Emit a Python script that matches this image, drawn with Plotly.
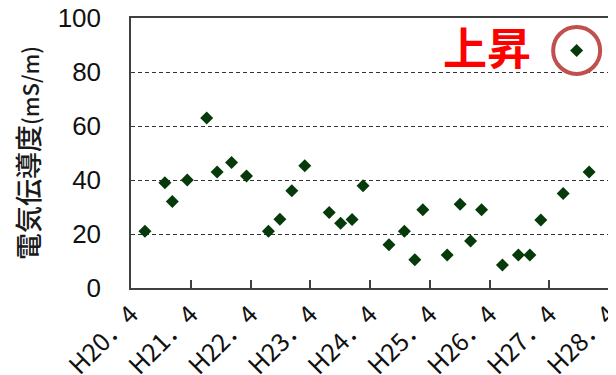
import numpy as np
import plotly.graph_objects as go

# months elapsed since H20.4 (April 2008) for each sample
months = [2.8, 6.8, 8.3, 11.3, 15.2, 17.3, 20.2, 23.2, 27.6, 29.9, 32.3, 34.9,
          39.8, 42.1, 44.4, 46.6, 51.8, 54.9, 57.0, 58.6, 63.5, 66.1, 68.2, 70.4,
          74.6, 77.8, 80.1, 82.3, 86.8, 89.5, 92.0]
# electrical conductivity (mS/m)
conductivity = [21, 39, 32, 40, 63, 43, 46.5, 41.5, 21, 25.5, 36, 45.3,
                28, 24, 25.4, 37.9, 16, 21, 10.5, 29, 12.2, 31, 17.4, 29,
                8.5, 12.2, 12.2, 25.2, 35, 88, 43]
tick_positions = [0, 12, 24, 36, 48, 60, 72, 84, 96]
tick_labels = ["H20．4", "H21．4", "H22．4", "H23．4", "H24．4",
               "H25．4", "H26．4", "H27．4", "H28．4"]
y_ticks = [0, 20, 40, 60, 80, 100]

fig = go.Figure()
fig.add_trace(go.Scatter(
    x=months, y=conductivity, mode="markers",
    marker=dict(symbol="diamond", size=10, color="#063a0a",
                line=dict(width=0)),
    showlegend=False, cliponaxis=False,
))

peak = int(np.argmax(conductivity))
fig.add_shape(type="circle", xref="x", yref="y",
              xsizemode="pixel", ysizemode="pixel",
              xanchor=months[peak], yanchor=conductivity[peak],
              x0=-23.5, x1=23.5, y0=-23.5, y1=23.5,
              line=dict(color="#c0504d", width=4))

fig.add_annotation(x=71.4, y=89.6, xref="x", yref="y", text="<b>上昇</b>",
                   showarrow=False, xanchor="center", yanchor="middle",
                   font=dict(family="Noto Sans CJK JP", size=44, color="#ff0000"))

# page body has an 8px default margin; margins compensate for it
fig.update_layout(
    width=616, height=375,
    margin=dict(l=123, r=11, t=10, b=95),
    plot_bgcolor="white", paper_bgcolor="white",
)
fig.update_xaxes(
    range=[0, 96.8], tickmode="array", tickvals=tick_positions, ticktext=tick_labels,
    tickangle=-45, ticks="inside", ticklen=8, tickcolor="#404040", tickwidth=1.5,
    showgrid=False, zeroline=False, showline=True, linecolor="#404040",
    linewidth=1.5, mirror=True, automargin=False, ticklabeloverflow="allow",
    tickfont=dict(family="Noto Sans CJK JP", size=25, color="#111111"),
)
fig.update_yaxes(
    range=[0, 100], tickmode="array", tickvals=y_ticks, ticks="",
    ticklabelstandoff=23, ticklabeloverflow="allow",
    showgrid=True, gridcolor="#333333", griddash="4px,3px", gridwidth=1,
    zeroline=False, showline=True, linecolor="#404040", linewidth=1.5,
    mirror=True, automargin=False,
    tickfont=dict(family="Liberation Sans", size=26, color="#111111"),
    title=dict(text="電気伝導度<span style='font-size:22px'>(mS/m)</span>",
               font=dict(family="Noto Sans CJK JP", size=27, color="#1a1a1a",
                         weight=500),
               standoff=24),
)

fig.write_html("out.html")
